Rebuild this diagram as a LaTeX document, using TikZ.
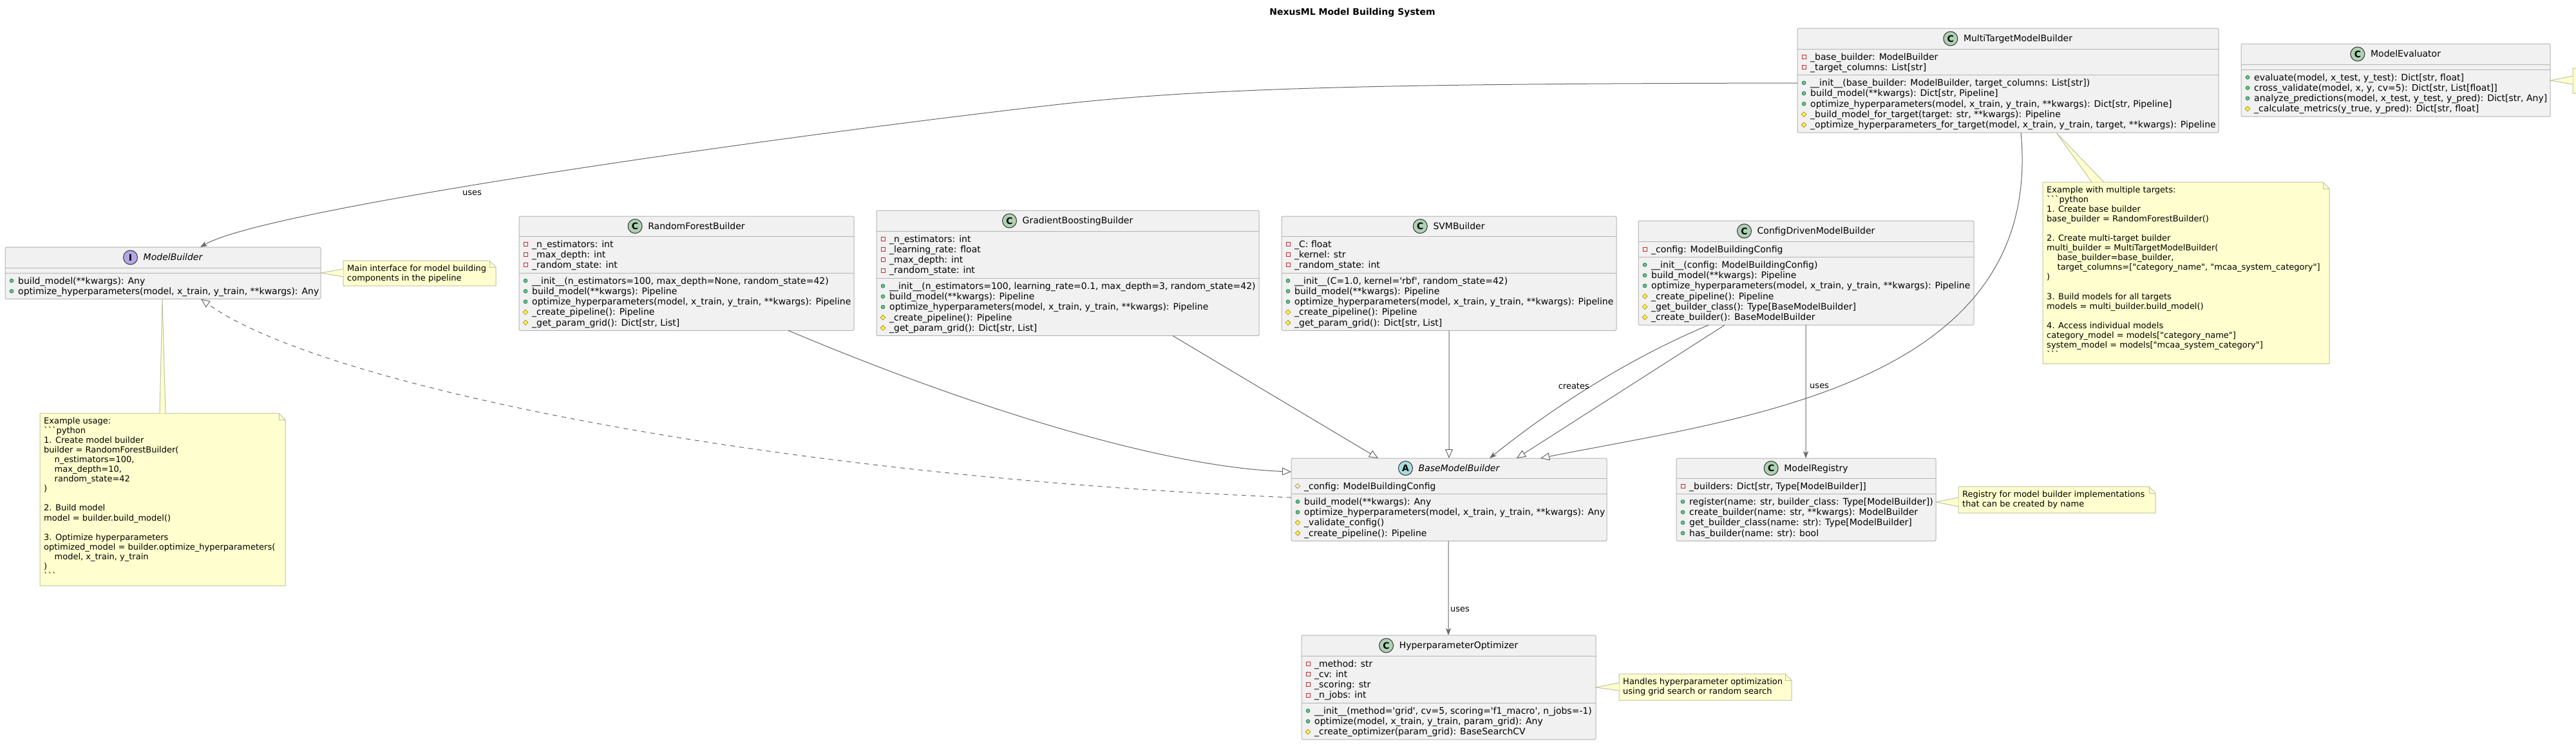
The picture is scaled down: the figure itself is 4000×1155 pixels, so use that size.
\documentclass[tikz,border=0pt]{standalone}
\usepackage{fontspec}
\newfontfamily\umlf{DejaVu Sans}
\usetikzlibrary{arrows.meta}
\definecolor{boxfill}{HTML}{F1F1F1}
\definecolor{boxline}{HTML}{B4B4B4}
\definecolor{arrowc}{HTML}{666666}
\definecolor{notefill}{HTML}{FEFECE}
\definecolor{noteline}{HTML}{C2C2A4}
\definecolor{iconC}{HTML}{ADD1B2}
\definecolor{iconI}{HTML}{B4A7E5}
\definecolor{iconA}{HTML}{A9DCDF}
\definecolor{privc}{HTML}{C82930}
\definecolor{pubfill}{HTML}{84BE84}
\definecolor{publine}{HTML}{038048}
\definecolor{protfill}{HTML}{FFFF44}
\definecolor{protline}{HTML}{B38D22}
\newcounter{tcnt}
\tikzset{
  cbox/.style={draw=boxline,fill=boxfill,line width=1bp,rounded corners=2.5bp,inner sep=0,outer sep=0,anchor=north west},
  sepl/.style={draw=boxline,line width=1bp},
  htext/.style={font=\umlf\fontsize{14bp}{16.3bp}\selectfont,inner sep=0,anchor=base},
  mtext/.style={font=\umlf\fontsize{14bp}{16.3bp}\selectfont,inner sep=0,anchor=base west},
  ntext/.style={font=\umlf\fontsize{13bp}{15.1bp}\selectfont,inner sep=0,anchor=base west},
  ltext/.style={font=\umlf\fontsize{13bp}{15.1bp}\selectfont,inner sep=0},
  cicon/.style={circle,draw=black!80,line width=1bp,minimum size=22bp,inner sep=0,font=\umlf\bfseries\fontsize{14bp}{14bp}\selectfont},
  notest/.style={draw=noteline,fill=notefill,line width=1bp},
  ext/.style={draw=arrowc,line width=1bp,-{Triangle[length=14bp,width=12bp,fill=white]}},
  dep/.style={draw=arrowc,line width=1bp,-{Stealth[length=11bp,width=8bp,inset=3bp]}},
  real/.style={ext,dash pattern=on 7bp off 7bp}
}
\newcommand\setpos[2]{\pgfmathsetmacro\memx{#1}\pgfmathsetmacro\memy{#2}}
\newcommand\visPriv[2]{\draw[draw=privc,line width=0.9bp] ({#1-3},{#2-3}) rectangle ({#1+3},{#2+3});}
\newcommand\visPub[2]{\filldraw[fill=pubfill,draw=publine,line width=0.8bp] ({#1},{#2}) circle[radius=2.8bp];}
\newcommand\visProt[2]{\filldraw[fill=protfill,draw=protline,line width=0.8bp] ({#1},{#2-3.8}) -- ({#1+3.8},{#2}) -- ({#1},{#2+3.8}) -- ({#1-3.8},{#2}) -- cycle;}
\newcommand\visProtF[2]{\draw[draw=protline,line width=0.8bp] ({#1},{#2-3.8}) -- ({#1+3.8},{#2}) -- ({#1},{#2+3.8}) -- ({#1-3.8},{#2}) -- cycle;}
\newcommand\mem[2]{\stepcounter{tcnt}\node[mtext] (t\arabic{tcnt}) at ({\memx+20},{\memy}) {#2};\csname vis#1\endcsname{\memx+10}{\memy-4.85}\pgfmathsetmacro\memy{\memy+16.3}}
\newcommand\nline[1]{\stepcounter{tcnt}\node[ntext] (t\arabic{tcnt}) at ({\memx},{\memy}) {#1};\pgfmathsetmacro\memy{\memy+15.1}}
\newcommand\nskip{\pgfmathsetmacro\memy{\memy+15.1}}
\newcommand\uclass[7]{\node[cbox,minimum width={(#4-#2)*1bp},minimum height={(#5-#3)*1bp}] (#1) at (#2,#3) {};\draw[sepl] (#2,#6) -- (#4,#6);\draw[sepl] (#2,#7) -- (#4,#7);}
\newcommand\chead[8]{\node[htext] (#1-t) at ({(#2+#3)/2},{(#4+#5)/2+4.9}) {\hspace*{31bp}#8};\node[cicon,fill=#6] (#1-i) at ([xshift=11bp,yshift=4.9bp]#1-t.base west) {#7};}
\newcommand\unote[5]{\node[inner sep=0,outer sep=0,anchor=north west,minimum width={(#4-#2)*1bp},minimum height={(#5-#3)*1bp}] (#1) at (#2,#3) {};%
\filldraw[notest] (#1.north west) -- ([xshift=-10bp]#1.north east) -- ([yshift=-10bp]#1.north east) -- (#1.south east) -- (#1.south west) -- cycle;%
\draw[notest,fill=none] ([xshift=-10bp]#1.north east) |- ([yshift=-10bp]#1.north east);}
\newcommand\nwedge[3]{\fill[notefill] #1 -- #2 -- #3 -- cycle;\draw[draw=noteline,line width=1bp] #2 -- #1 -- #3;}
\begin{document}
\begin{tikzpicture}[x=1bp,y=-1bp]
\useasboundingbox (0,0) rectangle (4000,1155);
\fill[white] (0,0) rectangle (4000,1155);
\node[font=\umlf\bfseries\fontsize{14bp}{16bp}\selectfont,anchor=base,inner sep=0] (title) at (2100,23) {NexusML Model Building System};

% ModelBuilder
\uclass{mb}{8}{384}{498}{464.6}{416}{424}
\chead{mb}{8}{498}{384}{416}{iconI}{I}{\itshape ModelBuilder}
\setpos{8}{441}
\mem{Pub}{build\_model(**kwargs): Any}
\mem{Pub}{optimize\_hyperparameters(model, x\_train, y\_train, **kwargs): Any}

% RandomForestBuilder
\uclass{rf}{806}{336}{1326}{513.5}{367}{424}
\chead{rf}{806}{1326}{336}{367}{iconC}{C}{RandomForestBuilder}
\setpos{806}{384}
\mem{Priv}{\_n\_estimators: int}
\mem{Priv}{\_max\_depth: int}
\mem{Priv}{\_random\_state: int}
\setpos{806}{441}
\mem{Pub}{\_\_init\_\_(n\_estimators=100, max\_depth=None, random\_state=42)}
\mem{Pub}{build\_model(**kwargs): Pipeline}
\mem{Pub}{optimize\_hyperparameters(model, x\_train, y\_train, **kwargs): Pipeline}
\mem{Prot}{\_create\_pipeline(): Pipeline}
\mem{Prot}{\_get\_param\_grid(): Dict[str, List]}

% GradientBoostingBuilder
\uclass{gb}{1361}{327}{1955}{521.7}{359}{432.2}
\chead{gb}{1361}{1955}{327}{359}{iconC}{C}{GradientBoostingBuilder}
\setpos{1361}{376}
\mem{Priv}{\_n\_estimators: int}
\mem{Priv}{\_learning\_rate: float}
\mem{Priv}{\_max\_depth: int}
\mem{Priv}{\_random\_state: int}
\setpos{1361}{449.2}
\mem{Pub}{\_\_init\_\_(n\_estimators=100, learning\_rate=0.1, max\_depth=3, random\_state=42)}
\mem{Pub}{build\_model(**kwargs): Pipeline}
\mem{Pub}{optimize\_hyperparameters(model, x\_train, y\_train, **kwargs): Pipeline}
\mem{Prot}{\_create\_pipeline(): Pipeline}
\mem{Prot}{\_get\_param\_grid(): Dict[str, List]}

% SVMBuilder
\uclass{svm}{1990}{336}{2510}{513.5}{367}{424}
\chead{svm}{1990}{2510}{336}{367}{iconC}{C}{SVMBuilder}
\setpos{1990}{384}
\mem{Priv}{\_C: float}
\mem{Priv}{\_kernel: str}
\mem{Priv}{\_random\_state: int}
\setpos{1990}{441}
\mem{Pub}{\_\_init\_\_(C=1.0, kernel='rbf', random\_state=42)}
\mem{Pub}{build\_model(**kwargs): Pipeline}
\mem{Pub}{optimize\_hyperparameters(model, x\_train, y\_train, **kwargs): Pipeline}
\mem{Prot}{\_create\_pipeline(): Pipeline}
\mem{Prot}{\_get\_param\_grid(): Dict[str, List]}

% ConfigDrivenModelBuilder
\uclass{cd}{2544}{343}{3065}{505.1}{375}{399.3}
\chead{cd}{2544}{3065}{343}{375}{iconC}{C}{ConfigDrivenModelBuilder}
\setpos{2544}{392}
\mem{Priv}{\_config: ModelBuildingConfig}
\setpos{2544}{416.3}
\mem{Pub}{\_\_init\_\_(config: ModelBuildingConfig)}
\mem{Pub}{build\_model(**kwargs): Pipeline}
\mem{Pub}{optimize\_hyperparameters(model, x\_train, y\_train, **kwargs): Pipeline}
\mem{Prot}{\_create\_pipeline(): Pipeline}
\mem{Prot}{\_get\_builder\_class(): Type[BaseModelBuilder]}
\mem{Prot}{\_create\_builder(): BaseModelBuilder}

% MultiTargetModelBuilder
\uclass{mt}{2791}{44}{3445}{206.1}{76}{116.6}
\chead{mt}{2791}{3445}{44}{76}{iconC}{C}{MultiTargetModelBuilder}
\setpos{2791}{93}
\mem{Priv}{\_base\_builder: ModelBuilder}
\mem{Priv}{\_target\_columns: List[str]}
\setpos{2791}{133.6}
\mem{Pub}{\_\_init\_\_(base\_builder: ModelBuilder, target\_columns: List[str])}
\mem{Pub}{build\_model(**kwargs): Dict[str, Pipeline]}
\mem{Pub}{optimize\_hyperparameters(model, x\_train, y\_train, **kwargs): Dict[str, Pipeline]}
\mem{Prot}{\_build\_model\_for\_target(target: str, **kwargs): Pipeline}
\mem{Prot}{\_optimize\_hyperparameters\_for\_target(model, x\_train, y\_train, target, **kwargs): Pipeline}

% ModelEvaluator
\uclass{me}{3480}{68}{3960}{181.2}{100}{108}
\chead{me}{3480}{3960}{68}{100}{iconC}{C}{ModelEvaluator}
\setpos{3480}{125}
\mem{Pub}{evaluate(model, x\_test, y\_test): Dict[str, float]}
\mem{Pub}{cross\_validate(model, x, y, cv=5): Dict[str, List[float]]}
\mem{Pub}{analyze\_predictions(model, x\_test, y\_test, y\_pred): Dict[str, Any]}
\mem{Prot}{\_calculate\_metrics(y\_true, y\_pred): Dict[str, float]}

% BaseModelBuilder
\uclass{bmb}{2005}{712}{2495}{840.5}{743}{767.3}
\chead{bmb}{2005}{2495}{712}{743}{iconA}{A}{\itshape BaseModelBuilder}
\setpos{2005}{760}
\mem{ProtF}{\_config: ModelBuildingConfig}
\setpos{2005}{784.3}
\mem{Pub}{build\_model(**kwargs): Any}
\mem{Pub}{optimize\_hyperparameters(model, x\_train, y\_train, **kwargs): Any}
\mem{Prot}{\_validate\_config()}
\mem{Prot}{\_create\_pipeline(): Pipeline}

% ModelRegistry
\uclass{mr}{2603}{712}{3006}{840.5}{743}{767.3}
\chead{mr}{2603}{3006}{712}{743}{iconC}{C}{ModelRegistry}
\setpos{2603}{760}
\mem{Priv}{\_builders: Dict[str, Type[ModelBuilder]]}
\setpos{2603}{784.3}
\mem{Pub}{register(name: str, builder\_class: Type[ModelBuilder])}
\mem{Pub}{create\_builder(name: str, **kwargs): ModelBuilder}
\mem{Pub}{get\_builder\_class(name: str): Type[ModelBuilder]}
\mem{Pub}{has\_builder(name: str): bool}

% HyperparameterOptimizer
\uclass{ho}{2021}{987}{2478}{1149.1}{1019}{1092.2}
\chead{ho}{2021}{2478}{987}{1019}{iconC}{C}{HyperparameterOptimizer}
\setpos{2021}{1036}
\mem{Priv}{\_method: str}
\mem{Priv}{\_cv: int}
\mem{Priv}{\_scoring: str}
\mem{Priv}{\_n\_jobs: int}
\setpos{2021}{1109.2}
\mem{Pub}{\_\_init\_\_(method='grid', cv=5, scoring='f1\_macro', n\_jobs=-1)}
\mem{Pub}{optimize(model, x\_train, y\_train, param\_grid): Any}
\mem{Prot}{\_create\_optimizer(param\_grid): BaseSearchCV}

% connectors
\draw[dep] ([yshift=-85bp]mt.north west) .. controls (2200,130) and (1900,135) .. (1664,160) .. controls (1300,200) and (420,320) .. ([xshift=303bp]mb.north west);
\node[ltext,anchor=west] (l1) at (718,300) {uses};
\draw[real] ([yshift=-61bp]bmb.north west) .. controls (1200,740) and (500,600) .. ([xshift=304bp]mb.south west);
\draw[ext] ([xshift=418bp]rf.south west) .. controls (1500,630) and (1800,725) .. ([yshift=-21bp]bmb.north west);
\draw[ext] ([xshift=460bp]gb.south west) -- ([xshift=135bp]bmb.north west);
\draw[ext] ([xshift=260bp]svm.south west) -- ([xshift=245bp]bmb.north west);
\draw[dep] ([xshift=109bp]cd.south west) .. controls (2510,565) and (2390,650) .. ([xshift=308bp]bmb.north west);
\node[ltext,anchor=east] (l2) at (2468,600) {creates};
\draw[ext] ([xshift=134bp]cd.south west) -- ([xshift=350bp]bmb.north west);
\draw[ext] ([xshift=347bp]mt.south west) .. controls (3175,600) and (2700,650) .. ([xshift=387bp]bmb.north west);
\draw[dep] ([xshift=260bp]cd.south west) -- ([xshift=201bp]mr.north west);
\node[ltext,anchor=west] (l3) at (2810,600) {uses};
\draw[dep] ([xshift=244bp]bmb.south west) -- ([xshift=228bp]ho.north west);
\node[ltext,anchor=west] (l4) at (2252,947) {uses};

% notes
\unote{n1}{533}{405}{770}{444}
\nwedge{([yshift=-40bp]mb.north east)}{([yshift=-13bp]n1.north west)}{([yshift=-25bp]n1.north west)}
\setpos{539}{421}
\nline{Main interface for model building}
\nline{components in the pipeline}

\unote{n2}{62}{642}{443}{910}
\nwedge{([xshift=244bp]mb.south west)}{([xshift=186bp]n2.north west)}{([xshift=195bp]n2.north west)}
\setpos{68}{658}
\nline{Example usage:}
\nline{```python}
\nline{1. Create model builder}
\nline{builder = RandomForestBuilder(}
\nline{\hspace*{16.5bp}n\_estimators=100,}
\nline{\hspace*{16.5bp}max\_depth=10,}
\nline{\hspace*{16.5bp}random\_state=42}
\nline{)}
\nskip
\nline{2. Build model}
\nline{model = builder.build\_model()}
\nskip
\nline{3. Optimize hyperparameters}
\nline{optimized\_model = builder.optimize\_hyperparameters(}
\nline{\hspace*{16.5bp}model, x\_train, y\_train}
\nline{)}
\nline{```}

\unote{n3}{3172}{283}{3617}{565}
\nwedge{([xshift=402bp]mt.south west)}{([xshift=76bp]n3.north west)}{([xshift=95bp]n3.north west)}
\setpos{3178}{299}
\nline{Example with multiple targets:}
\nline{```python}
\nline{1. Create base builder}
\nline{base\_builder = RandomForestBuilder()}
\nskip
\nline{2. Create multi-target builder}
\nline{multi\_builder = MultiTargetModelBuilder(}
\nline{\hspace*{16.5bp}base\_builder=base\_builder,}
\nline{\hspace*{16.5bp}target\_columns=["category\_name", "mcaa\_system\_category"]}
\nline{)}
\nskip
\nline{3. Build models for all targets}
\nline{models = multi\_builder.build\_model()}
\nskip
\nline{4. Access individual models}
\nline{category\_model = models["category\_name"]}
\nline{system\_model = models["mcaa\_system\_category"]}
\nline{```}

\unote{n4}{3041}{756}{3347}{797}
\nwedge{([yshift=-68bp]mr.north east)}{([yshift=-17bp]n4.north west)}{([yshift=-31bp]n4.north west)}
\setpos{3047}{772}
\nline{Registry for model builder implementations}
\nline{that can be created by name}

\unote{n5}{2514}{1047}{2782}{1088}
\nwedge{([yshift=-81bp]ho.north east)}{([yshift=-14bp]n5.north west)}{([yshift=-26bp]n5.north west)}
\setpos{2520}{1063}
\nline{Handles hyperparameter optimization}
\nline{using grid search or random search}

\unote{n6}{3995}{106}{4300}{145}
\nwedge{([yshift=-57bp]me.north east)}{([yshift=-12bp]n6.north west)}{([yshift=-25bp]n6.north west)}
\end{tikzpicture}
\end{document}
